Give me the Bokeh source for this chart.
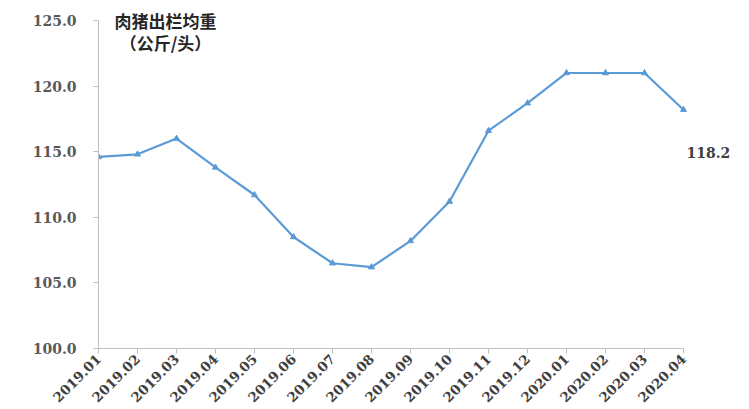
from bokeh.plotting import figure
from bokeh.models import Range1d, FixedTicker, Label
from bokeh.embed import file_html
from bokeh.resources import INLINE
import math

months = ["2019.01", "2019.02", "2019.03", "2019.04", "2019.05", "2019.06", "2019.07", "2019.08",
          "2019.09", "2019.10", "2019.11", "2019.12", "2020.01", "2020.02", "2020.03", "2020.04"]
weights = [114.6, 114.8, 116.0, 113.8, 111.7, 108.5, 106.5, 106.2,
           108.2, 111.2, 116.6, 118.7, 121.0, 121.0, 121.0, 118.2]
y_ticks = [100, 105, 110, 115, 120, 125]
y_tick_labels = ["100.0", "105.0", "110.0", "115.0", "120.0", "125.0"]
title_lines = ["肉猪出栏均重", "（公斤/头）"]
end_label = "118.2"

xs = list(range(len(months)))

W, H = 749, 409
BL, BR, BT, BB = 98, 11, 7, 61
fw, fh = W - BL - BR, H - BT - BB
x_px = 39.0
y_px = 13.12

p = figure(width=W, height=H, output_backend="svg", toolbar_location=None,
           x_range=Range1d(0, fw / x_px), y_range=Range1d(100, 100 + fh / y_px),
           min_border_left=BL, min_border_right=BR, min_border_top=BT, min_border_bottom=BB)
p.outline_line_color = None
p.xgrid.visible = False
p.ygrid.visible = False
p.background_fill_color = "white"

line_color = "#5B9BD5"
p.line(xs, weights, line_color=line_color, line_width=2.2)
p.scatter(xs, weights, marker="triangle", size=6, fill_color=line_color, line_color=line_color)

# y axis
p.yaxis.ticker = FixedTicker(ticks=y_ticks)
p.yaxis.bounds = (y_ticks[0], y_ticks[-1])
p.yaxis.major_label_overrides = {t: l for t, l in zip(y_ticks, y_tick_labels)}
p.yaxis.minor_tick_line_color = None
p.yaxis.axis_line_color = "#BFBFBF"
p.yaxis.major_tick_line_color = "#BFBFBF"
p.yaxis.major_tick_out = 5
p.yaxis.major_tick_in = 0
p.yaxis.major_label_text_font = "DejaVu Serif"
p.yaxis.major_label_text_font_style = "bold"
p.yaxis.major_label_text_font_size = "14px"
p.yaxis.major_label_text_color = "#595959"
p.yaxis.major_label_standoff = 17

# x axis
p.xaxis.ticker = FixedTicker(ticks=xs)
p.xaxis.bounds = (xs[0], xs[-1])
p.xaxis.major_label_overrides = {i: m for i, m in zip(xs, months)}
p.xaxis.minor_tick_line_color = None
p.xaxis.axis_line_color = "#BFBFBF"
p.xaxis.major_tick_line_color = "#BFBFBF"
p.xaxis.major_tick_out = 5
p.xaxis.major_tick_in = 0
p.xaxis.major_label_orientation = math.pi / 4
p.xaxis.major_label_text_font = "DejaVu Serif"
p.xaxis.major_label_text_font_style = "bold"
p.xaxis.major_label_text_font_size = "13.5px"
p.xaxis.major_label_text_color = "#404040"
p.xaxis.major_label_standoff = 3

# title lines
p.add_layout(Label(x=1.72, y=125, text=title_lines[0], text_align="center", text_baseline="middle",
                   text_font="Noto Sans CJK SC", text_font_style="bold", text_font_size="17px",
                   text_color="#262626"))
p.add_layout(Label(x=1.72, y=123.3, text=title_lines[1], text_align="center", text_baseline="middle",
                   text_font="Noto Sans CJK SC", text_font_style="bold", text_font_size="17px",
                   text_color="#262626"))

# end value label
p.add_layout(Label(x=xs[-1], y=weights[-1], text=end_label, x_offset=3, y_offset=-37,
                   text_align="left", text_baseline="top",
                   text_font="DejaVu Serif", text_font_style="bold", text_font_size="14px",
                   text_color="#404040"))

open("out.html", "w").write(file_html(p, INLINE))
